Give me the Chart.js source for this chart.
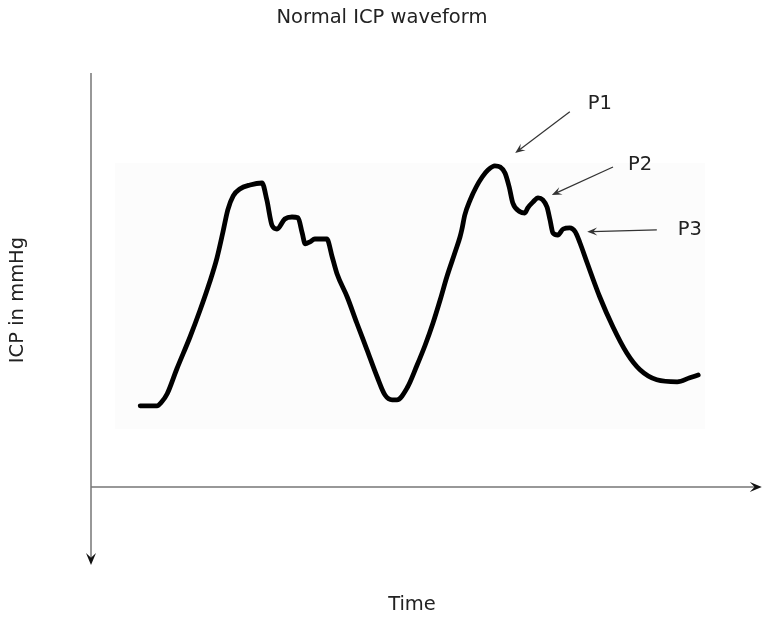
<!DOCTYPE html>
<html>
<head>
<meta charset="utf-8">
<title>Normal ICP waveform</title>
<script src="https://cdn.jsdelivr.net/npm/chart.js@4.4.1/dist/chart.umd.min.js"></script>
<style>
  html, body { margin: 0; padding: 0; background: #ffffff; }
  #wrap { position: relative; width: 762px; height: 628px; }
</style>
</head>
<body>
<div id="wrap"><canvas id="icpChart"></canvas></div>
<script>
// waveform (time units, ICP units)
const timeValues = [
  8.2, 11.0, 11.8, 12.7, 14.3, 16.5, 18.2, 19.8, 21.0, 22.0, 22.8, 23.7, 24.8, 26.5, 28.5,
  29.3, 30.2, 31.0, 32.3, 33.5, 34.5, 35.2, 35.7, 36.5, 37.3, 39.3, 40.2, 41.0, 42.7, 44.3, 46.0,
  47.7, 49.0, 50.2, 51.0, 52.7, 54.3,
  55.7, 57.0, 58.2, 59.3, 60.7, 61.5, 61.8, 62.3, 63.2, 64.2, 65.2, 66.2, 67.3, 68.2, 69.0, 69.7,
  70.3, 71.5, 72.3, 72.8, 73.7, 74.5, 75.3, 76.0, 76.5, 77.0, 77.8, 78.7, 79.8, 80.7, 81.5, 82.7,
  84.8, 87.0, 89.3, 91.5, 94.3, 97.7, 99.8, 101.2
];
const icpValues = [
  20.3, 20.3, 21.3, 23.3, 29.5, 37.5, 44.3, 51.3, 57.3, 63.8, 69.3, 72.8, 74.5, 75.5, 76.0,
  71.8, 65.3, 64.5, 67.0, 67.5, 67.3, 63.5, 60.8, 61.3, 62.0, 62.0, 57.5, 53.3, 47.5, 41.0, 34.3,
  27.5, 23.0, 21.8, 21.8, 24.8, 30.3,
  35.5, 41.0, 46.8, 52.5, 58.8, 62.5, 64.3, 68.0, 71.8, 75.0, 77.5, 79.3, 80.3, 80.0, 78.5, 75.0,
  71.0, 68.8, 68.5, 69.8, 71.3, 72.3, 71.8, 70.0, 66.8, 63.5, 63.0, 64.5, 64.8, 63.8, 61.0, 56.0,
  47.5, 40.0, 33.5, 29.3, 26.8, 26.3, 27.3, 28.0
];

// peak annotations: label position and arrow from -> to
const peakNames = ['P1', 'P2', 'P3'];
const peakTextX = [84.8, 91.5, 99.8];
const peakTextY = [95.8, 80.5, 64.3];
const arrowFromX = [79.8, 87.0, 94.3];
const arrowFromY = [93.8, 80.0, 64.3];
const arrowToX = [70.7, 76.8, 82.7];
const arrowToY = [83.5, 73.0, 63.8];

// axis extents and the faint backing panel
const X_MIN = 0, X_MAX = 107, X_ARROW = 111.8;
const Y_MIN = -10, Y_MAX = 103.5, Y_ARROW = -19.5;
const panelX = [4, 102.3];
const panelY = [14.5, 81];

const FONT_SIZE = 19.5;
Chart.defaults.font.family = "'DejaVu Sans', Verdana, sans-serif";
Chart.defaults.color = '#222222';

function stealthHead(ctx, tipX, tipY, angle, len, half) {
  ctx.save();
  ctx.translate(tipX, tipY);
  ctx.rotate(angle);
  ctx.beginPath();
  ctx.moveTo(0, 0);
  ctx.lineTo(-len, -half);
  ctx.lineTo(-len * 0.6, 0);
  ctx.lineTo(-len, half);
  ctx.closePath();
  ctx.fill();
  ctx.restore();
}

const panelPlugin = {
  id: 'panel',
  beforeDatasetsDraw(chart) {
    const { ctx, scales: { x, y } } = chart;
    const l = x.getPixelForValue(panelX[0]), r = x.getPixelForValue(panelX[1]);
    const t = y.getPixelForValue(panelY[1]), b = y.getPixelForValue(panelY[0]);
    ctx.save();
    ctx.fillStyle = '#fcfcfc';
    ctx.fillRect(l, t, r - l, b - t);
    ctx.restore();
  }
};

const axesPlugin = {
  id: 'axesArrows',
  afterDraw(chart) {
    const { ctx, scales: { x, y } } = chart;
    const x0 = x.getPixelForValue(0);
    const y0 = y.getPixelForValue(0);
    const yTop = y.getPixelForValue(Y_MAX);
    const yEnd = y.getPixelForValue(Y_ARROW);
    const xEnd = x.getPixelForValue(X_ARROW);
    ctx.save();
    ctx.strokeStyle = '#777777';
    ctx.lineWidth = 1.5;
    ctx.beginPath();
    ctx.moveTo(x0, yTop);
    ctx.lineTo(x0, yEnd - 6);
    ctx.moveTo(x0, y0);
    ctx.lineTo(xEnd - 6, y0);
    ctx.stroke();
    ctx.fillStyle = '#111111';
    stealthHead(ctx, x0, yEnd, Math.PI / 2, 12, 5);
    stealthHead(ctx, xEnd, y0, 0, 12, 5);
    ctx.restore();
  }
};

const peaksPlugin = {
  id: 'peakLabels',
  afterDatasetsDraw(chart) {
    const { ctx, scales: { x, y } } = chart;
    ctx.save();
    ctx.strokeStyle = '#333333';
    ctx.fillStyle = '#333333';
    ctx.lineWidth = 1.2;
    peakNames.forEach((name, i) => {
      const fx = x.getPixelForValue(arrowFromX[i]), fy = y.getPixelForValue(arrowFromY[i]);
      const tx = x.getPixelForValue(arrowToX[i]), ty = y.getPixelForValue(arrowToY[i]);
      const ang = Math.atan2(ty - fy, tx - fx);
      ctx.beginPath();
      ctx.moveTo(fx, fy);
      ctx.lineTo(tx - Math.cos(ang) * 5, ty - Math.sin(ang) * 5);
      ctx.stroke();
      stealthHead(ctx, tx, ty, ang, 10, 4);
    });
    ctx.fillStyle = '#222222';
    ctx.font = FONT_SIZE + "px 'DejaVu Sans', Verdana, sans-serif";
    ctx.textAlign = 'center';
    ctx.textBaseline = 'middle';
    peakNames.forEach((name, i) => {
      ctx.fillText(name, x.getPixelForValue(peakTextX[i]), y.getPixelForValue(peakTextY[i]));
    });
    ctx.restore();
  }
};

new Chart(document.getElementById('icpChart'), {
  type: 'line',
  data: {
    datasets: [{
      label: 'ICP',
      data: timeValues.map((t, i) => ({ x: t, y: icpValues[i] })),
      borderColor: '#000000',
      borderWidth: 4.8,
      borderCapStyle: 'round',
      borderJoinStyle: 'round',
      pointRadius: 0,
      cubicInterpolationMode: 'monotone',
      fill: false
    }]
  },
  options: {
    responsive: true,
    maintainAspectRatio: false,
    animation: false,
    events: [],
    layout: { padding: { left: 6.3, right: 4.4, top: 0, bottom: 11.3 } },
    plugins: {
      legend: { display: false },
      tooltip: { enabled: false },
      title: {
        display: true,
        text: 'Normal ICP waveform',
        font: { size: FONT_SIZE, weight: 'normal' },
        color: '#222222',
        padding: { top: 6.3, bottom: 43.3 }
      }
    },
    scales: {
      x: {
        type: 'linear',
        min: X_MIN,
        max: X_MAX,
        grid: { display: false, drawTicks: false },
        border: { display: false },
        ticks: { display: false },
        title: { display: true, text: 'Time', font: { size: FONT_SIZE }, color: '#222222', padding: { top: 66.3, bottom: 0 } }
      },
      y: {
        min: Y_MIN,
        max: Y_MAX,
        grid: { display: false, drawTicks: false },
        border: { display: false },
        ticks: { display: false },
        title: { display: true, text: 'ICP in mmHg', font: { size: FONT_SIZE }, color: '#222222', padding: { top: 0, bottom: 61.3 } }
      },
      yRight: {
        position: 'right',
        grid: { display: false, drawTicks: false },
        border: { display: false },
        ticks: { display: false },
        afterFit: (scale) => { scale.width = 24.6; }
      }
    }
  },
  plugins: [panelPlugin, peaksPlugin, axesPlugin]
});
</script>
</body>
</html>
